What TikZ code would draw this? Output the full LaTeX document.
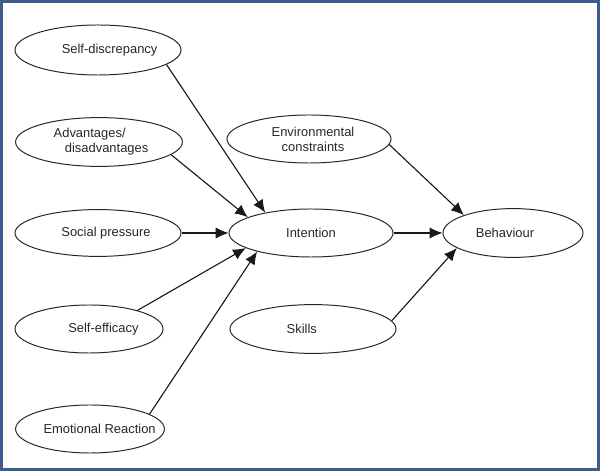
\documentclass[tikz,border=0pt]{standalone}
\usepackage{fontspec}
\setmainfont{Liberation Sans}
\usetikzlibrary{shapes.geometric,arrows.meta}
\definecolor{frameblue}{RGB}{62,92,140}

\begin{document}
\begin{tikzpicture}
[x=0.025cm, y=-0.025cm,
 oval/.style={draw=black!85, line width=0.7pt, ellipse, inner sep=0pt},
 every label/.style={font=\fontsize{9.2}{10.6}\selectfont, text=black!85, align=left},
 arr/.style={-{Latex[length=0.32cm,width=0.28cm]}, line width=0.8pt, black!90}]
\useasboundingbox (0,0) rectangle (600,471);
\draw[frameblue, line width=0.075cm] (1.5,1.5) rectangle (598.5,469.5);
% left column
\node[oval, minimum width=4.15cm, minimum height=1.25cm, label={[xshift=0.29cm]center:Self-discrepancy}] (sd) at (98,50) {};
\node[oval, minimum width=4.17cm, minimum height=1.22cm, label={[xshift=0.05cm]center:Advantages/\\\hspace{0.28cm}disadvantages}] (adv) at (99,142) {};
\node[oval, minimum width=4.15cm, minimum height=1.17cm, label={[xshift=0.2cm]center:Social pressure}] (sp) at (98,233) {};
\node[oval, minimum width=3.7cm, minimum height=1.2cm, label={[xshift=0.36cm]center:Self-efficacy}] (se) at (89,329) {};
\node[oval, minimum width=3.72cm, minimum height=1.2cm, label={[xshift=0.24cm]center:Emotional Reaction}] (er) at (90,429) {};
% middle and right
\node[oval, minimum width=4.1cm, minimum height=1.2cm, label={center:Intention}] (int) at (311,233) {};
\node[oval, minimum width=4.1cm, minimum height=1.2cm, label={[xshift=0.1cm,align=center]center:Environmental\\constraints}] (env) at (309,139) {};
\node[oval, minimum width=4.15cm, minimum height=1.22cm, label={[xshift=-0.28cm]center:Skills}] (sk) at (313,329) {};
\node[oval, minimum width=3.5cm, minimum height=1.22cm, label={[xshift=-0.2cm]center:Behaviour}] (beh) at (513,233) {};
% arrows
\draw[arr] (sd.-12) -- (int.156);
\draw[arr] (adv.-10) -- (int.166);
\draw[arr] (sp.east) -- (int.west);
\draw[arr] (se.21) -- (int.-167);
\draw[arr] (er.14) -- (int.-161);
\draw[arr] (int.east) -- (beh.west);
\draw[arr] (env.-4) -- (beh.160);
\draw[arr] (sk.6) -- (beh.-165);
\end{tikzpicture}
\end{document}
